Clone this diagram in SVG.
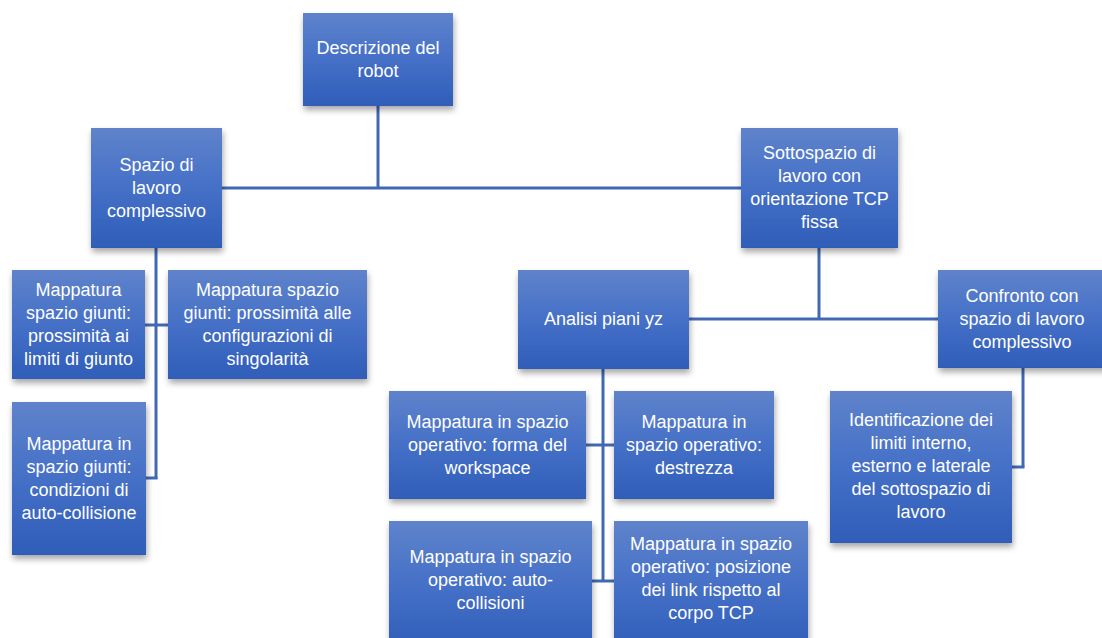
<svg xmlns="http://www.w3.org/2000/svg" width="1102" height="638" viewBox="0 0 1102 638">
<defs>
<linearGradient id="g" x1="0" y1="0" x2="0" y2="1">
<stop offset="0" stop-color="#5F83CB"/>
<stop offset="0.5" stop-color="#4570C7"/>
<stop offset="1" stop-color="#2F5DB8"/>
</linearGradient>
<filter id="sh" x="-10%" y="-10%" width="125%" height="130%">
<feDropShadow dx="1" dy="4" stdDeviation="3" flood-color="#000" flood-opacity="0.35"/>
</filter>
</defs>
<style>
.n rect{fill:url(#g);filter:url(#sh)}
.n text{fill:#fff;font-family:"Liberation Sans",Arial,sans-serif;font-size:18px;text-anchor:middle}
.c line{stroke:#4268B4;stroke-width:3;fill:none}
</style>
<rect width="1102" height="638" fill="#fff"/>
<g class="c" id="connectors">
<line x1="378" y1="106" x2="378" y2="188"/>
<line x1="222" y1="188" x2="741" y2="188"/>
<line x1="156" y1="248" x2="156" y2="479"/>
<line x1="145" y1="325" x2="168" y2="325"/>
<line x1="146" y1="478" x2="157.5" y2="478"/>
<line x1="819" y1="248" x2="819" y2="319"/>
<line x1="689" y1="319" x2="938" y2="319"/>
<line x1="603" y1="369" x2="603" y2="582"/>
<line x1="586" y1="445" x2="614" y2="445"/>
<line x1="592" y1="581" x2="614" y2="581"/>
<line x1="1023" y1="368" x2="1023" y2="467"/>
<line x1="1012" y1="467" x2="1024.5" y2="467"/>
</g>
<g class="n" id="n-descrizione"><rect x="303" y="13" width="150" height="93"/>
<text x="378" y="54">Descrizione del</text><text x="378" y="77">robot</text></g>
<g class="n" id="n-spazio"><rect x="91" y="128" width="131" height="120"/>
<text x="156.5" y="171">Spazio di</text><text x="156.5" y="194">lavoro</text><text x="156.5" y="217">complessivo</text></g>
<g class="n" id="n-sottospazio"><rect x="741" y="128" width="157" height="120"/>
<text x="819.5" y="159">Sottospazio di</text><text x="819.5" y="182">lavoro con</text><text x="819.5" y="205">orientazione TCP</text><text x="819.5" y="228">fissa</text></g>
<g class="n" id="n-limiti"><rect x="12" y="270" width="133" height="109"/>
<text x="78.5" y="296">Mappatura</text><text x="78.5" y="319">spazio giunti:</text><text x="78.5" y="342">prossimità ai</text><text x="78.5" y="365">limiti di giunto</text></g>
<g class="n" id="n-singolarita"><rect x="168" y="270" width="199" height="109"/>
<text x="267.5" y="296">Mappatura spazio</text><text x="267.5" y="319">giunti: prossimità alle</text><text x="267.5" y="342">configurazioni di</text><text x="267.5" y="365">singolarità</text></g>
<g class="n" id="n-autocoll-giunti"><rect x="12" y="402" width="134" height="153"/>
<text x="79" y="450">Mappatura in</text><text x="79" y="473">spazio giunti:</text><text x="79" y="496">condizioni di</text><text x="79" y="519">auto-collisione</text></g>
<g class="n" id="n-analisi"><rect x="518" y="270" width="171" height="99"/>
<text x="603.5" y="325">Analisi piani yz</text></g>
<g class="n" id="n-confronto"><rect x="938" y="270" width="170" height="98"/>
<text x="1022" y="302">Confronto con</text><text x="1022" y="325">spazio di lavoro</text><text x="1022" y="348">complessivo</text></g>
<g class="n" id="n-identificazione"><rect x="830" y="391" width="182" height="152"/>
<text x="921" y="426">Identificazione dei</text><text x="921" y="449">limiti interno,</text><text x="921" y="472">esterno e laterale</text><text x="921" y="495">del sottospazio di</text><text x="921" y="518">lavoro</text></g>
<g class="n" id="n-forma"><rect x="389" y="391" width="197" height="108"/>
<text x="487.5" y="428">Mappatura in spazio</text><text x="487.5" y="451">operativo: forma del</text><text x="487.5" y="474">workspace</text></g>
<g class="n" id="n-destrezza"><rect x="614" y="391" width="160" height="108"/>
<text x="694" y="428">Mappatura in</text><text x="694" y="451">spazio operativo:</text><text x="694" y="474">destrezza</text></g>
<g class="n" id="n-autocoll-op"><rect x="389" y="521" width="203" height="130"/>
<text x="490.5" y="563">Mappatura in spazio</text><text x="490.5" y="586">operativo: auto-</text><text x="490.5" y="609">collisioni</text></g>
<g class="n" id="n-posizione"><rect x="614" y="521" width="194" height="130"/>
<text x="711" y="550">Mappatura in spazio</text><text x="711" y="573">operativo: posizione</text><text x="711" y="596">dei link rispetto al</text><text x="711" y="619">corpo TCP</text></g>
</svg>
